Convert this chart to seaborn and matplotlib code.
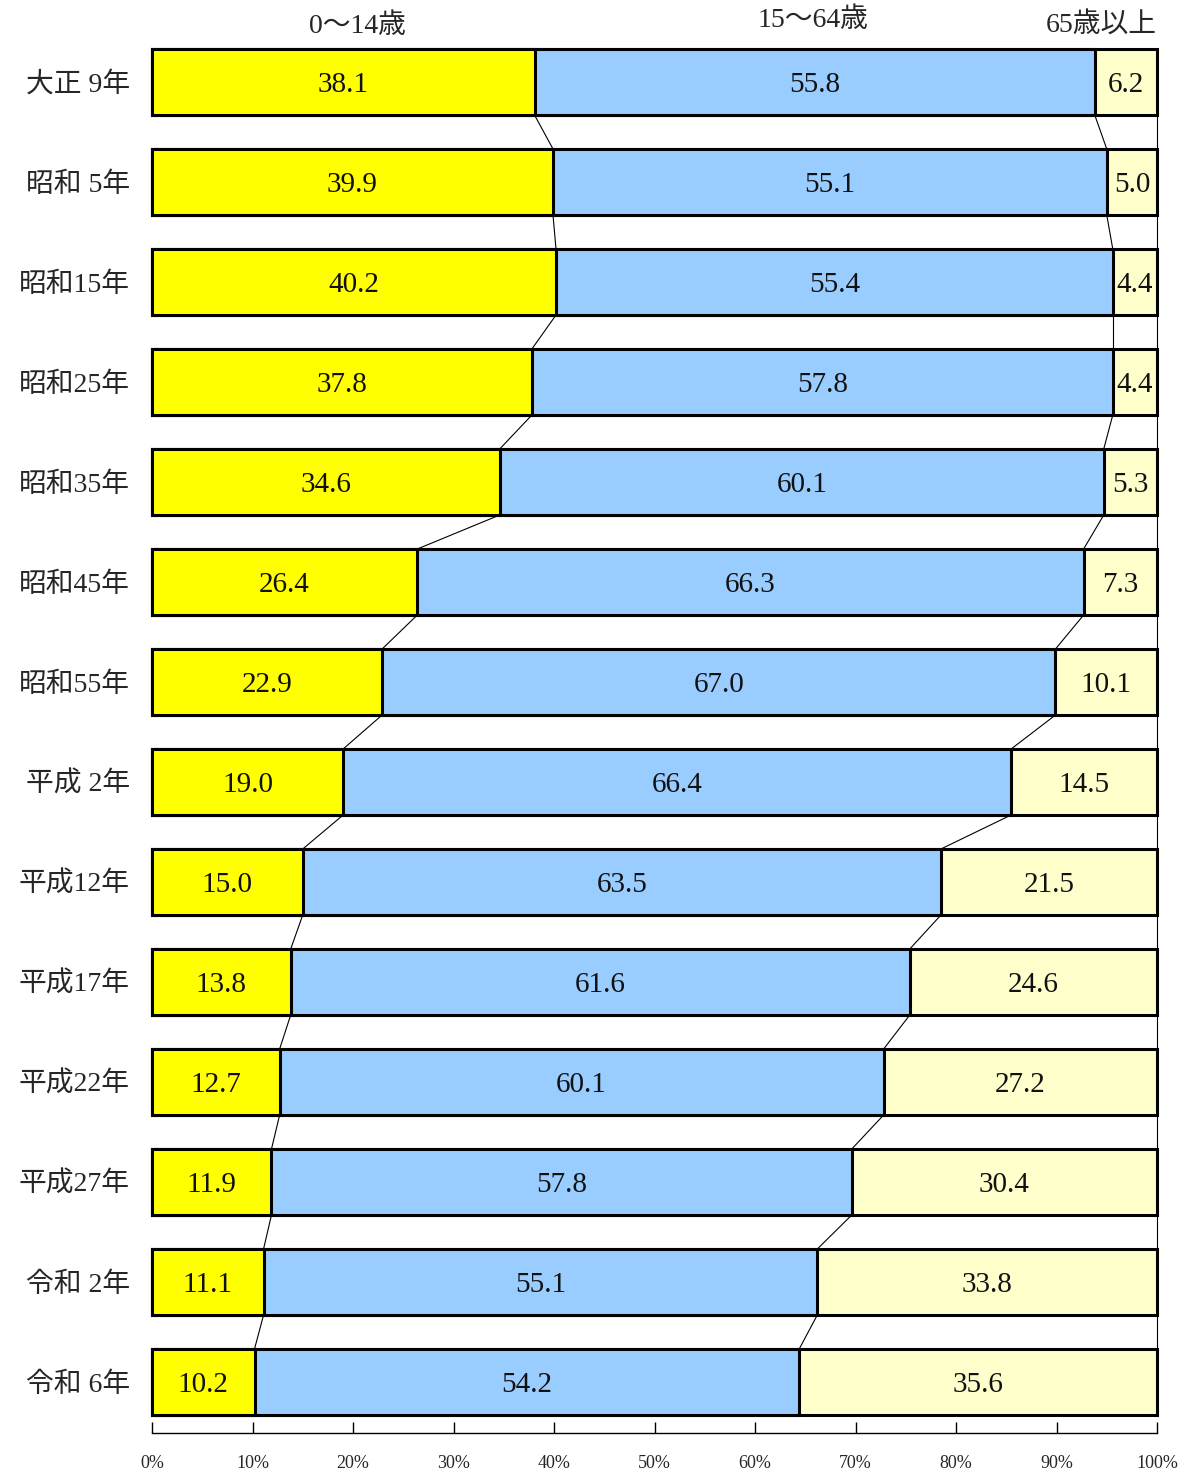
import matplotlib
matplotlib.use("Agg")
import matplotlib.pyplot as plt
import seaborn as sns
import numpy as np
import pandas as pd

years = ["大正 9年", "昭和 5年", "昭和15年", "昭和25年", "昭和35年", "昭和45年", "昭和55年",
         "平成 2年", "平成12年", "平成17年", "平成22年", "平成27年", "令和 2年", "令和 6年"]
age_0_14 = [38.1, 39.9, 40.2, 37.8, 34.6, 26.4, 22.9, 19.0, 15.0, 13.8, 12.7, 11.9, 11.1, 10.2]
age_15_64 = [55.8, 55.1, 55.4, 57.8, 60.1, 66.3, 67.0, 66.4, 63.5, 61.6, 60.1, 57.8, 55.1, 54.2]
age_65 = [6.2, 5.0, 4.4, 4.4, 5.3, 7.3, 10.1, 14.5, 21.5, 24.6, 27.2, 30.4, 33.8, 35.6]
series_names = ["0～14歳", "15～64歳", "65歳以上"]
x_ticks = [0, 10, 20, 30, 40, 50, 60, 70, 80, 90, 100]

colors = ["#FFFF00", "#99CCFF", "#FFFFCC"]
FAM = ["Liberation Serif", "Noto Sans CJK JP"]

sns.set_theme(style="white")
plt.rcParams["font.family"] = FAM

a = np.array(age_0_14)
b = np.array(age_15_64)
c = np.array(age_65)
tot = a + b + c
s1 = a / tot * 100
s2 = (a + b) / tot * 100
s3 = np.full_like(s1, 100.0)

df = pd.DataFrame({"year": years, "c1": s1, "c2": s2, "c3": s3})

fig = plt.figure(figsize=(11.92, 14.72), dpi=100)
ax = fig.add_axes([152 / 1192, 39 / 1472, (1157 - 152) / 1192, (1433 - 31) / 1472])

for col, colr in zip(["c3", "c2", "c1"], colors[::-1]):
    sns.barplot(data=df, y="year", x=col, orient="h", color=colr, saturation=1,
                width=0.66, edgecolor="black", linewidth=2.2, ax=ax, order=years)
for p in ax.patches:
    p.set_clip_on(False)

# connecting series lines
n = len(years)
for cum in [s1, s2, s3]:
    for i in range(n - 1):
        ax.plot([cum[i], cum[i + 1]], [i + 0.33, i + 1 - 0.33], color="black", lw=0.8,
                zorder=1, clip_on=False)

# value labels
for i in range(n):
    lefts = [0, s1[i], s2[i]]
    rights = [s1[i], s2[i], 100]
    vals = [age_0_14[i], age_15_64[i], age_65[i]]
    for l, r, v in zip(lefts, rights, vals):
        ax.text((l + r) / 2, i + 0.03, f"{v:.1f}", ha="center", va="center", fontsize=21,
                family=FAM, color="#111111")

# series name labels at top
ax.text(20.4, -0.56, series_names[0], ha="center", va="center", fontsize=20, family=FAM, clip_on=False)
ax.text(65.8, -0.62, series_names[1], ha="center", va="center", fontsize=20, family=FAM, clip_on=False)
ax.text(94.5, -0.57, series_names[2], ha="center", va="center", fontsize=20, family=FAM, clip_on=False)

ax.set_xlim(0, 100)
ax.set_ylim(n - 1 + 0.51, -0.51)
ax.set_xticks(x_ticks)
ax.set_xticklabels([f"{t}%" for t in x_ticks], fontsize=13, family=FAM)
ax.set_xlabel("")
ax.set_ylabel("")
for lab in ax.get_yticklabels():
    lab.set_fontsize(20)
    lab.set_family(FAM)
ax.tick_params(axis="y", length=0, pad=16)
ax.tick_params(axis="x", direction="in", length=8, width=1, color="black", bottom=True, pad=16)
for sp in ["top", "right", "left"]:
    ax.spines[sp].set_visible(False)
ax.spines["bottom"].set_color("black")
ax.spines["bottom"].set_linewidth(1)

fig.savefig("out.png", dpi=100)
